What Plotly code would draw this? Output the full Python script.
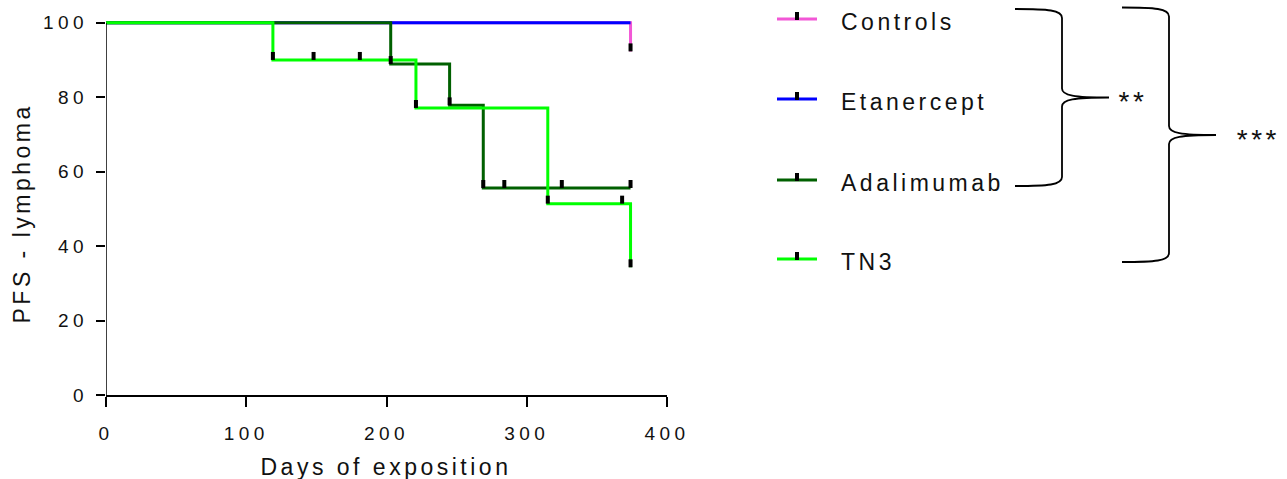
import numpy as np
import plotly.graph_objects as go

# ---------------- data ----------------
groups = ["Controls", "Etanercept", "Adalimumab", "TN3"]

controls_days = [0, 374]
controls_pfs = [100, 92.3]
controls_censor = [374]

etanercept_days = [0, 374]
etanercept_pfs = [100, 100]
etanercept_censor = [160, 291, 368, 374]

adalimumab_days = [0, 203, 245, 269, 374]
adalimumab_pfs = [100, 88.9, 77.8, 55.6, 55.6]
adalimumab_censor = [203, 245, 269, 284, 325, 374]

tn3_days = [0, 119, 221, 315, 374]
tn3_pfs = [100, 90, 77.1, 51.4, 34.3]
tn3_censor = [119, 148, 181, 221, 315, 368, 374]

x_ticks = [0, 100, 200, 300, 400]
y_ticks = [0, 20, 40, 60, 80, 100]
significance = ["**", "***"]

# ---------------- styling ----------------
colors = {"Controls": "#F257D6", "Etanercept": "#0000FF",
          "Adalimumab": "#006000", "TN3": "#00FF00"}
FONT = "Arial, 'Liberation Sans', sans-serif"
TXT = "#111111"

W, H = 1287, 479
ML, MR, MT, MB = 106, 620, 19, 84
PW = W - ML - MR
PH = H - MT - MB
Y_MAX = 101
PX_PER_UNIT = PH / Y_MAX


def pxx(x):
    return (x - ML) / PW


def pxy(y):
    return (H - MB - y) / PH


series = [
    ("Controls", controls_days, controls_pfs, controls_censor),
    ("Etanercept", etanercept_days, etanercept_pfs, etanercept_censor),
    ("Adalimumab", adalimumab_days, adalimumab_pfs, adalimumab_censor),
    ("TN3", tn3_days, tn3_pfs, tn3_censor),
]

fig = go.Figure()
for name, t, s, _ in series:
    fig.add_trace(go.Scatter(x=t, y=s, mode="lines", line_shape="hv",
                             line=dict(color=colors[name], width=3),
                             name=name, showlegend=False, hoverinfo="skip"))

tick_off = 4 / PX_PER_UNIT
for name, t, s, c in series:
    t_arr = np.array(t)
    s_arr = np.array(s)
    idx = np.searchsorted(t_arr, np.array(c), side="right") - 1
    cy = s_arr[idx] + tick_off
    fig.add_trace(go.Scatter(x=c, y=cy, mode="markers", cliponaxis=False,
                             marker=dict(symbol="line-ns", size=5.7,
                                         line=dict(color="black", width=4)),
                             showlegend=False, hoverinfo="skip"))

shapes = []
annotations = []

# y axis line (0..100)
shapes.append(dict(type="line", xref="x", yref="y", x0=0, x1=0, y0=0, y1=100,
                   line=dict(color="black", width=1.5), layer="above"))

# legend
leg_y = [19, 99, 180, 259]
for name, ly in zip(groups, leg_y):
    shapes.append(dict(type="line", xref="paper", yref="paper",
                       x0=pxx(777), x1=pxx(817), y0=pxy(ly), y1=pxy(ly),
                       line=dict(color=colors[name], width=3)))
    shapes.append(dict(type="line", xref="paper", yref="paper",
                       x0=pxx(797), x1=pxx(797), y0=pxy(ly - 7), y1=pxy(ly + 1),
                       line=dict(color="black", width=4)))
    annotations.append(dict(text=name, xref="paper", yref="paper", align="left",
                            x=pxx(839), y=pxy(ly + 3), xanchor="left", yanchor="middle",
                            showarrow=False, font=dict(family=FONT, size=23, color=TXT)))


def brace(x0, xv, xt, ytop, ymid, ybot):
    pts = [
        ("M", [(x0, ytop)]),
        ("C", [(xv - 14, ytop), (xv, ytop + 1), (xv, ytop + 9)]),
        ("L", [(xv, ymid - 9)]),
        ("C", [(xv, ymid - 2), (xv + 12, ymid), (xt, ymid)]),
        ("C", [(xv + 12, ymid), (xv, ymid + 2), (xv, ymid + 9)]),
        ("L", [(xv, ybot - 9)]),
        ("C", [(xv, ybot - 1), (xv - 14, ybot), (x0, ybot)]),
    ]
    out = []
    for cmd, ps in pts:
        out.append(cmd + " " + " ".join(f"{pxx(a):.5f},{pxy(b):.5f}" for a, b in ps))
    return " ".join(out)


shapes.append(dict(type="path", xref="paper", yref="paper",
                   path=brace(1015, 1062, 1109, 9, 97.5, 186),
                   line=dict(color="black", width=1.8)))
shapes.append(dict(type="path", xref="paper", yref="paper",
                   path=brace(1122, 1169, 1216, 7.5, 135, 262),
                   line=dict(color="black", width=1.8)))
annotations.append(dict(text=significance[0], xref="paper", yref="paper",
                        x=pxx(1133), y=pxy(102), xanchor="center", yanchor="middle",
                        showarrow=False, font=dict(family=FONT, size=28, color=TXT)))
annotations.append(dict(text=significance[1], xref="paper", yref="paper",
                        x=pxx(1258), y=pxy(139), xanchor="center", yanchor="middle",
                        showarrow=False, font=dict(family=FONT, size=28, color=TXT)))

# axis titles
annotations.append(dict(text="Days of exposition", xref="paper", yref="paper",
                        x=pxx(386), y=pxy(467), xanchor="center", yanchor="middle",
                        showarrow=False, font=dict(family=FONT, size=23, color=TXT)))
annotations.append(dict(text="PFS - lymphoma", xref="paper", yref="paper",
                        x=pxx(22), y=pxy(214), xanchor="center", yanchor="middle",
                        textangle=-90, showarrow=False,
                        font=dict(family=FONT, size=23, color=TXT)))

fig.update_layout(
    width=W, height=H,
    margin=dict(l=ML, r=MR, t=MT, b=MB, autoexpand=False),
    paper_bgcolor="white", plot_bgcolor="white",
    showlegend=False,
    shapes=shapes, annotations=annotations,
    font=dict(family=FONT, color=TXT),
)
fig.update_xaxes(range=[0, 400], tickvals=x_ticks, showgrid=False, zeroline=False,
                 showline=True, linecolor="black", linewidth=1.5,
                 ticks="outside", ticklen=10, tickwidth=1.5, tickcolor="black",
                 ticklabelstandoff=10,
                 tickfont=dict(family=FONT, size=19, color=TXT), fixedrange=True)
fig.update_yaxes(range=[0, Y_MAX], tickvals=y_ticks, showgrid=False, zeroline=False,
                 showline=False,
                 ticks="outside", ticklen=9, tickwidth=1.5, tickcolor="black",
                 ticklabelstandoff=4,
                 tickfont=dict(family=FONT, size=19, color=TXT), fixedrange=True)

post = """
document.documentElement.style.margin='0';
document.body.style.margin='0';
document.body.style.padding='0';
var s=document.createElement('style');
s.textContent='html,body{margin:0;padding:0;overflow:hidden} .xtick text,.ytick text{letter-spacing:4.5px} .annotation-text{letter-spacing:3.5px}';
document.head.appendChild(s);
"""
fig.write_html("out.html", post_script=post, config={"displayModeBar": False})
